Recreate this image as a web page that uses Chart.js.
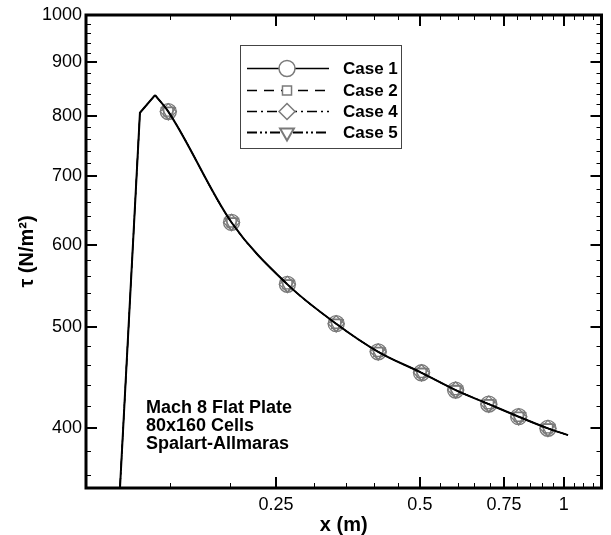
<!DOCTYPE html>
<html><head><meta charset="utf-8">
<script src="https://cdn.jsdelivr.net/npm/chart.js@4/dist/chart.umd.min.js"></script>
<style>html,body{margin:0;padding:0;background:#fff;}#wrap{width:611px;height:535px;position:relative;}</style>
</head><body><div id="wrap"><canvas id="c" width="611" height="535"></canvas></div>
<script>
// ---- data ----
// steep rise up to the peak (sharp corners)
const riseX = [0.1178, 0.1297, 0.1395];
const riseY = [350, 805, 837];
// smooth decay after the peak
const decayX = [0.1395, 0.1487, 0.2017, 0.264, 0.334, 0.409, 0.504, 0.594, 0.697, 0.805, 0.927, 1.021];
const decayY = [837, 807, 631, 550, 504, 473.5, 452, 435, 421.6, 410, 399.5, 393.6];
// symbol positions (all cases coincide)
const symbolX = [0.1487, 0.2017, 0.264, 0.334, 0.409, 0.504, 0.594, 0.697, 0.805, 0.927];
const symbolY = [807, 631, 550, 504, 473.5, 452, 435, 421.6, 410, 399.5];
const caseLabels = ['Case 1', 'Case 2', 'Case 4', 'Case 5'];
const xTickLabels = [0.25, 0.5, 0.75, 1];
const xMinorTicks = [0.15, 0.2, 0.3, 0.35, 0.4, 0.45, 0.55, 0.6, 0.65, 0.7, 0.8, 0.85, 0.9, 0.95, 1.05, 1.1, 1.15];
const yTickLabels = [400, 500, 600, 700, 800, 900, 1000];
const yMinorTicks = [360, 380, 420, 440, 460, 480, 520, 540, 560, 580, 620, 640, 660, 680, 720, 740, 760, 780, 820, 840, 860, 880, 920, 940, 960, 980];
const annotationLines = ['Mach 8 Flat Plate', '80x160 Cells', 'Spalart-Allmaras'];

// ---- styles ----
const caseStyles = [
  {dash: [], pointStyle: 'circle', radius: 8, rotation: 0, lw: 1.5},
  {dash: [10, 7], pointStyle: 'rect', radius: 6.4, rotation: 0, lw: 1.5},
  {dash: [10, 4, 2, 4], pointStyle: 'rectRot', radius: 8, rotation: 0, lw: 1.5},
  {dash: [10, 3, 2, 3, 2, 3], pointStyle: 'triangle', radius: 8, rotation: 180, lw: 2}
];
const FONT = "'Liberation Sans', Arial, Helvetica, sans-serif";

const pts = (xs, ys) => xs.map((x, i) => ({x: x, y: ys[i]}));

const datasets = [];
caseLabels.forEach((lab, i) => {
  const common = {showLine: true, borderColor: '#000', borderWidth: i === 0 ? 2 : 1.2,
    borderDash: caseStyles[i].dash, pointRadius: 0, order: 1};
  datasets.push(Object.assign({label: lab + ' rise', data: pts(riseX, riseY), tension: 0}, common));
  datasets.push(Object.assign({label: lab, data: pts(decayX, decayY), cubicInterpolationMode: 'monotone'}, common));
});
caseLabels.forEach((lab, i) => {
  datasets.push({
    label: lab + ' symbols', data: pts(symbolX, symbolY), showLine: false,
    pointStyle: caseStyles[i].pointStyle, pointRadius: caseStyles[i].radius,
    pointRotation: caseStyles[i].rotation,
    pointBorderColor: '#7a7a7a', pointBackgroundColor: 'rgba(0,0,0,0)',
    pointBorderWidth: 1.3, order: 2
  });
});

const framePlugin = {
  id: 'frame',
  afterDraw(chart) {
    const ctx = chart.ctx, a = chart.chartArea;
    const xs = chart.scales.x, ys = chart.scales.y;
    ctx.save();
    ctx.strokeStyle = '#000';
    ctx.setLineDash([]);
    const drawX = (vals, len, w) => {
      ctx.lineWidth = w;
      vals.forEach(v => {
        const px = Math.round(xs.getPixelForValue(v)) + (w % 2 ? 0.5 : 0);
        ctx.beginPath(); ctx.moveTo(px, a.bottom); ctx.lineTo(px, a.bottom - len);
        ctx.moveTo(px, a.top); ctx.lineTo(px, a.top + len); ctx.stroke();
      });
    };
    const drawY = (vals, len, w) => {
      ctx.lineWidth = w;
      vals.forEach(v => {
        const py = Math.round(ys.getPixelForValue(v)) + (w % 2 ? 0.5 : 0);
        ctx.beginPath(); ctx.moveTo(a.left, py); ctx.lineTo(a.left + len, py);
        ctx.moveTo(a.right, py); ctx.lineTo(a.right - len, py); ctx.stroke();
      });
    };
    drawX(xMinorTicks, 5, 1);
    drawX(xTickLabels, 11, 2);
    drawY(yMinorTicks, 5, 1);
    drawY(yTickLabels, 11, 2);
    ctx.lineWidth = 3;
    ctx.strokeRect(a.left, a.top, a.right - a.left, a.bottom - a.top);

    // legend box
    const bx = 240, by = 45, bw = 161, bh = 103;
    ctx.fillStyle = '#fff';
    ctx.fillRect(bx, by, bw, bh);
    ctx.lineWidth = 1; ctx.strokeStyle = '#444';
    ctx.strokeRect(bx + 0.5, by + 0.5, bw, bh);
    const rowsY = [68.5, 90.5, 111.5, 132.5];
    caseLabels.forEach((lab, i) => {
      const st = caseStyles[i];
      const y = rowsY[i];
      ctx.strokeStyle = '#000'; ctx.lineWidth = st.lw;
      ctx.setLineDash(st.dash);
      ctx.beginPath(); ctx.moveTo(247, y); ctx.lineTo(329, y); ctx.stroke();
      ctx.setLineDash([]);
      ctx.strokeStyle = '#7a7a7a'; ctx.fillStyle = '#fff';
      Chart.helpers.drawPoint(ctx, {pointStyle: st.pointStyle, radius: st.radius, rotation: st.rotation, borderWidth: 1.3}, 287, y);
      ctx.fillStyle = '#000';
      ctx.font = 'bold 17px ' + FONT;
      ctx.textBaseline = 'middle'; ctx.textAlign = 'left';
      ctx.fillText(lab, 343, y + 1);
    });

    // annotation
    ctx.fillStyle = '#000';
    ctx.font = 'bold 18px ' + FONT;
    ctx.textBaseline = 'alphabetic'; ctx.textAlign = 'left';
    annotationLines.forEach((t, i) => ctx.fillText(t, 146, 413 + i * 18));
    ctx.restore();
  }
};

new Chart(document.getElementById('c'), {
  type: 'scatter',
  data: {datasets: datasets},
  options: {
    responsive: false, animation: false, devicePixelRatio: 1,
    layout: {padding: {left: 0, right: 9.5, top: 15, bottom: 0}},
    plugins: {legend: {display: false}, tooltip: {enabled: false}},
    scales: {
      x: {
        type: 'logarithmic', min: 0.1, max: 1.2,
        afterBuildTicks: s => { s.ticks = xTickLabels.map(v => ({value: v})); },
        afterFit: s => { s.height = 47; },
        grid: {display: false, drawTicks: false},
        border: {display: false},
        ticks: {color: '#000', font: {family: FONT, size: 18}, padding: 6, autoSkip: false, maxRotation: 0,
          callback: v => String(v)},
        title: {display: true, text: 'x (m)', color: '#000', font: {family: FONT, size: 20, weight: 'bold', lineHeight: 1}, padding: {top: 0, bottom: 0}}
      },
      y: {
        type: 'logarithmic', min: 350, max: 1000,
        afterBuildTicks: s => { s.ticks = yTickLabels.map(v => ({value: v})); },
        afterFit: s => { s.width = 86; },
        grid: {display: false, drawTicks: false},
        border: {display: false},
        ticks: {color: '#000', font: {family: FONT, size: 18}, padding: 4, autoSkip: false,
          callback: v => String(v)},
        title: {display: true, text: 'τ (N/m²)', color: '#000', font: {family: FONT, size: 20, weight: 'bold', lineHeight: 1}, padding: {top: 17, bottom: 0}}
      }
    }
  },
  plugins: [framePlugin]
});
</script></body></html>
